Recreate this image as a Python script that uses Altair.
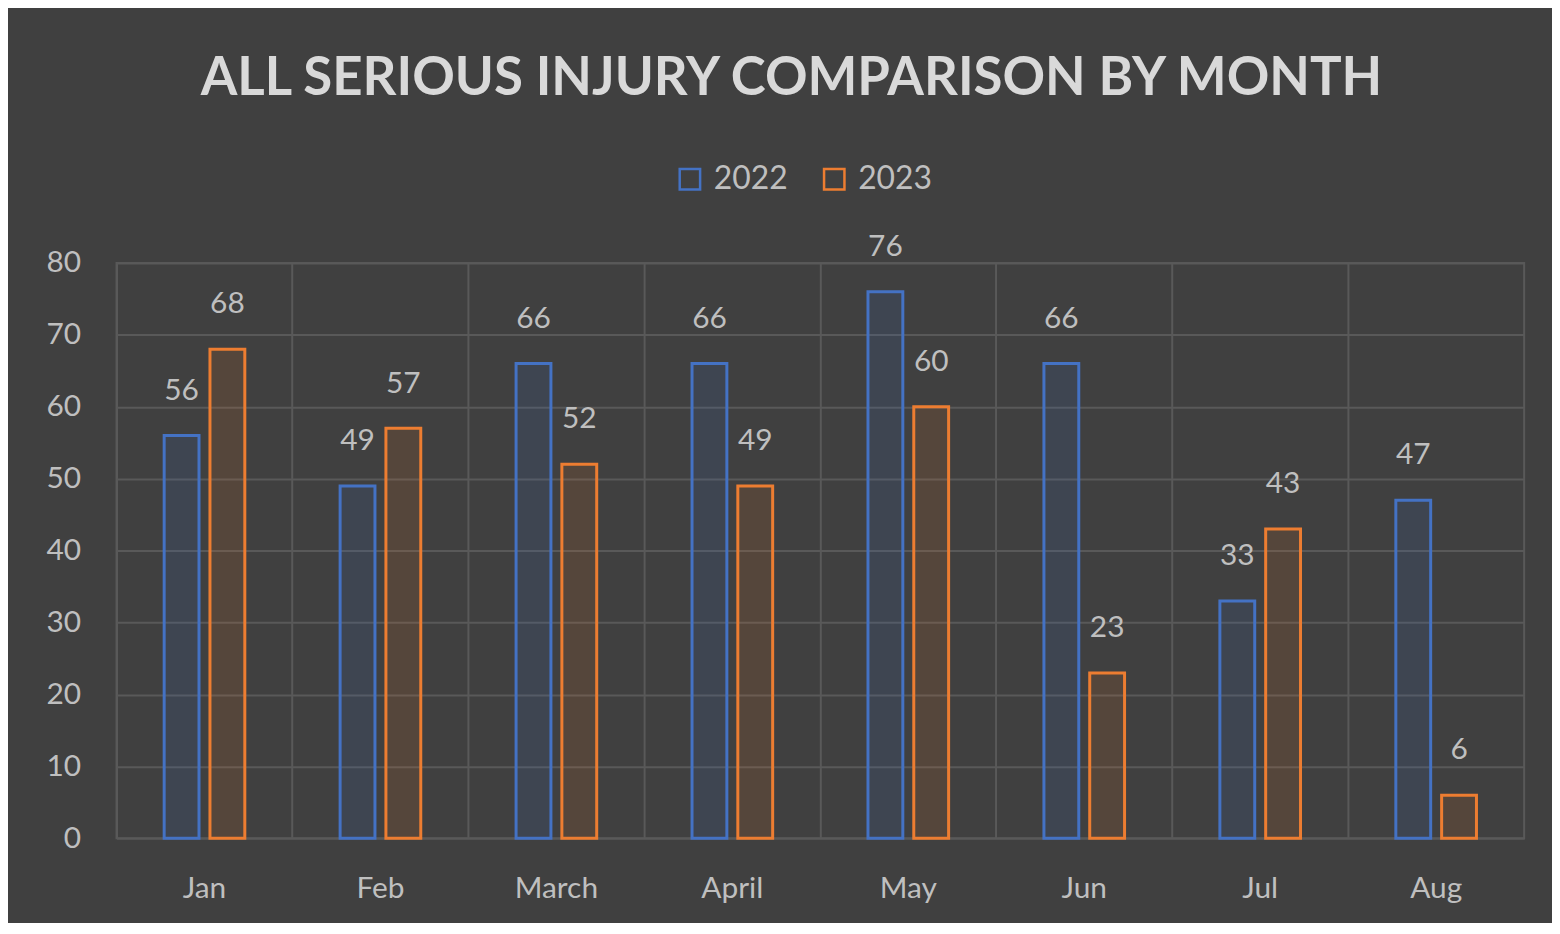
import altair as alt
import pandas as pd

months = ["Jan", "Feb", "March", "April", "May", "Jun", "Jul", "Aug"]
v2022 = [56, 49, 66, 66, 76, 66, 33, 47]
v2023 = [68, 57, 52, 49, 60, 23, 43, 6]
years = ["2022", "2023"]
colors = ["#4472C4", "#ED7D31"]
y_ticks = [0, 10, 20, 30, 40, 50, 60, 70, 80]

rows = []
for m, a, b in zip(months, v2022, v2023):
    rows.append({"month": m, "year": "2022", "value": a})
    rows.append({"month": m, "year": "2023", "value": b})
df = pd.DataFrame(rows)

FONT = "Lato"
LBL = "#bfbfbf"
GRID = "#595959"
BW = 35

x = alt.X("month:N", sort=months,
          scale=alt.Scale(paddingInner=0, paddingOuter=0),
          axis=alt.Axis(title=None, labelAngle=0, labelFontSize=30, labelColor=LBL,
                        labelPadding=35, domain=False, ticks=False, grid=True,
                        gridColor=GRID, gridWidth=2, bandPosition=0, labelFont=FONT))
xo = alt.XOffset("year:N", scale=alt.Scale(domain=years, paddingInner=0.158, paddingOuter=1))
y = alt.Y("value:Q", scale=alt.Scale(domain=[0, 80], nice=False),
          axis=alt.Axis(title=None, values=y_ticks, labelFontSize=30, labelColor=LBL,
                        labelPadding=36, domain=False, ticks=False, grid=True,
                        gridColor=GRID, gridWidth=2, labelFont=FONT))

# glow colour scale: data-derived domain (so its legend doesn't merge with the stroke legend)
gscale = alt.Scale(range=colors)
sscale = alt.Scale(domain=years, range=colors)

base = alt.Chart(df).encode(x=x, xOffset=xo, y=y)

glow1 = base.mark_bar(width=BW, strokeWidth=24, strokeOpacity=0.16, fillOpacity=0.05, strokeJoin="round").encode(
    color=alt.Color("year:N", scale=gscale, legend=None))
glow2 = base.mark_bar(width=BW, strokeWidth=15, strokeOpacity=0.22, fillOpacity=0.05, strokeJoin="round").encode(
    color=alt.Color("year:N", scale=gscale, legend=None))
glow3 = base.mark_bar(width=BW, strokeWidth=8, strokeOpacity=0.3, fillOpacity=0.04, strokeJoin="round").encode(
    color=alt.Color("year:N", scale=gscale, legend=None))
main = base.mark_bar(width=BW, filled=False, strokeWidth=3).encode(
    stroke=alt.Stroke("year:N", scale=sscale,
                      legend=alt.Legend(title=None, orient="none", direction="horizontal",
                                        legendX=560, legendY=-100,
                                        labelFontSize=32, labelColor=LBL, labelFont=FONT,
                                        symbolType="square", symbolSize=420,
                                        symbolStrokeWidth=2.5, symbolFillColor="transparent",
                                        columnPadding=30, labelOffset=8, padding=0)))
labels = base.mark_text(dy=-30, baseline="bottom", fontSize=30, color=LBL, font=FONT).encode(
    text="value:Q")

chart = alt.layer(glow1, glow2, glow3, main, labels).properties(
    width=1414, height=578,
    background="#404040",
    padding={"left": 38, "top": 43, "right": 28, "bottom": 18},
    title=alt.TitleParams("ALL SERIOUS INJURY COMPARISON BY MONTH", fontSize=53, font=FONT,
                          fontWeight="bold", color="#d9d9d9", anchor="middle", dx=-29,
                          offset=58),
).configure_view(stroke=GRID, strokeWidth=2)

chart.save("out.html", embed_options={"renderer": "svg", "actions": False})
